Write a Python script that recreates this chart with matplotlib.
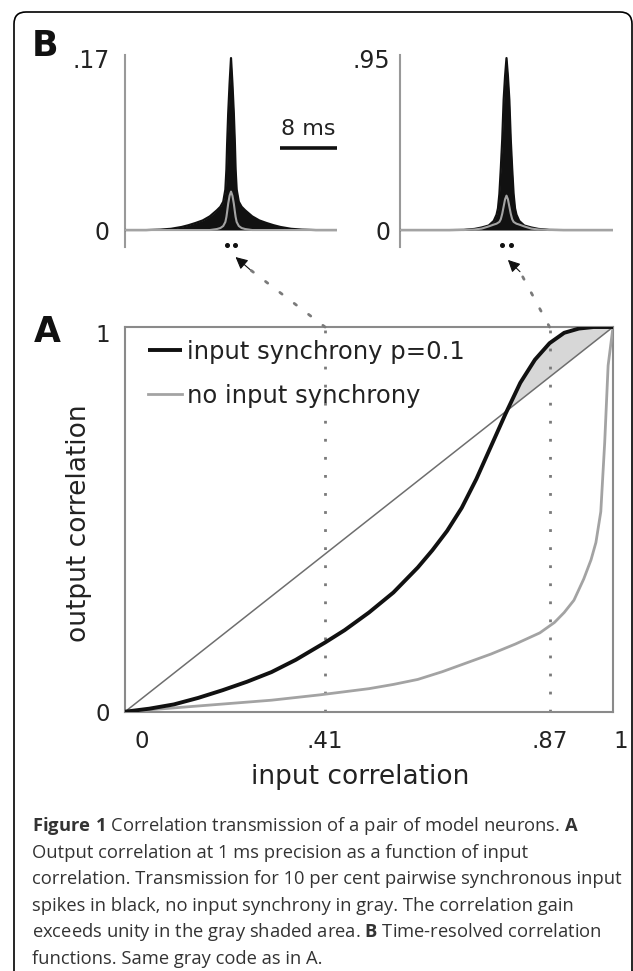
import matplotlib
matplotlib.use("Agg")
import matplotlib.pyplot as plt
from matplotlib.patches import FancyBboxPatch, ConnectionPatch
from matplotlib.transforms import IdentityTransform, ScaledTranslation
import numpy as np

plt.rcParams['font.family'] = ['DejaVu Sans']
plt.rcParams['mathtext.fontset'] = 'custom'
plt.rcParams['mathtext.rm'] = 'Open Sans'
plt.rcParams['mathtext.bf'] = 'Open Sans:bold'

# --- panel A: output vs input correlation ---
sync_x = [0, .05, .1, .15, .2, .25, .3, .35, .41, .45, .5, .55, .6, .63, .66,
          .69, .72, .75, .78, .81, .84, .87, .9, .93, .96, 1]
sync_y = [0, .008, .019, .036, .056, .078, .103, .135, .18, .212, .258, .31,
          .375, .42, .47, .53, .605, .69, .775, .855, .915, .958, .985, .996,
          1, 1]
nosync_x = [0, .1, .2, .3, .4, .45, .5, .55, .6, .65, .7, .75, .8, .85, .88,
            .9, .92, .94, .955, .965, .975, .983, .99, 1]
nosync_y = [0, .01, .02, .03, .044, .052, .06, .071, .084, .104, .127, .15,
            .176, .205, .232, .258, .29, .345, .395, .44, .52, .7, .9, 1]
marked_inputs = [0.41, 0.87]
xtick_vals = [0, 0.41, 0.87, 1]
xtick_labels = ['0', '.41', '.87', '1']
legend_labels = ['input synchrony p=0.1', 'no input synchrony']

# --- panel B: time-resolved correlation functions (lag in ms) ---
lag = [-15, -12, -10, -8.5, -7, -6, -5, -4, -3, -2, -1.5, -1.1, -0.8, -0.65,
       -0.55, -0.4, -0.2, 0, 0.2, 0.4, 0.55, 0.65, 0.8, 1.1, 1.5, 2, 3, 4, 5,
       6, 7, 8.5, 10, 12, 15]
b1_sync = [0, 0, .0004, .0012, .003, .0048, .007, .0095, .0135, .0195, .023,
           .028, .04, .06, .085, .115, .145, .17, .145, .115, .085, .06, .04,
           .028, .023, .0195, .0135, .0095, .007, .0048, .003, .0012, .0004,
           0, 0]
b1_nosync = [0, 0, 0, 0, 0, 0, 0, 0, 0, .001, .002, .004, .008, .013, .018,
             .026, .034, .038, .034, .026, .018, .013, .008, .004, .002, .001,
             0, 0, 0, 0, 0, 0, 0, 0, 0]
lag2 = [-15, -10, -8, -6, -4.5, -3.5, -2.5, -1.8, -1.4, -1.2, -1.0, -0.8,
        -0.6, -0.4, -0.2, 0, 0.2, 0.4, 0.6, 0.8, 1.0, 1.2, 1.4, 1.8, 2.5, 3.5,
        4.5, 6, 8, 10, 15]
b2_sync = [0, 0, 0, .001, .006, .014, .025, .05, .085, .12, .2, .34, .5, .72,
           .85, .95, .85, .72, .5, .34, .2, .12, .085, .05, .025, .014, .006,
           .001, 0, 0, 0]
b2_nosync = [0, 0, 0, 0, .003, .008, .02, .03, .035, .04, .045, .06, .09, .13,
             .17, .19, .17, .13, .09, .06, .045, .04, .035, .03, .02, .008,
             .003, 0, 0, 0, 0]
b1_top, b2_top = 0.17, 0.95
scale_bar = [7, 15]   # 8 ms

black = '#111111'
gray = '#a3a3a3'
spine_gray = '#8a8a8a'
text_c = '#222222'

fig = plt.figure(figsize=(6.33, 9.71), dpi=100)

# rounded frame around the figure
frame = FancyBboxPatch((14, -30), 618, 989, boxstyle="round,pad=0,rounding_size=12",
                       transform=IdentityTransform(), fill=False, lw=1.2,
                       ec='black')
fig.patches.append(frame)

axA = fig.add_axes([0.1975, 0.267, 0.7709, 0.3962])
axB1 = fig.add_axes([0.1975, 0.7456, 0.3349, 0.1977])
axB2 = fig.add_axes([0.6319, 0.7456, 0.3365, 0.1977])

# ---- A ----
axA.fill_between(sync_x, sync_y, sync_x, where=np.array(sync_y) >= np.array(sync_x),
                 interpolate=True, color='#d7d7d7', lw=0, zorder=1)
axA.plot([0, 1], [0, 1], color='#6e6e6e', lw=1.1, zorder=2)
for xv in marked_inputs:
    axA.axvline(xv, color='#7a7a7a', lw=2, ls=(0, (1, 5.5)), zorder=2)
l1, = axA.plot(sync_x, sync_y, color=black, lw=2.8, zorder=4,
               label=legend_labels[0], solid_capstyle='butt',
               solid_joinstyle='round')
l2, = axA.plot(nosync_x, nosync_y, color=gray, lw=2.0, zorder=3,
               label=legend_labels[1], solid_joinstyle='round')
axA.set_xlim(0, 1)
axA.set_ylim(0, 1)
for s in axA.spines.values():
    s.set_color(spine_gray)
    s.set_linewidth(1.5)
axA.set_xticks(xtick_vals)
axA.set_xticklabels(xtick_labels)
axA.set_yticks([0, 1])
axA.set_yticklabels(['0', '1'])
axA.tick_params(axis='x', length=0, pad=13, labelsize=16.5, labelcolor=text_c)
axA.tick_params(axis='y', length=0, pad=11, labelsize=16.5, labelcolor=text_c)
xt = axA.xaxis.get_major_ticks()
xt[0].label1.set_transform(xt[0].label1.get_transform() +
                           ScaledTranslation(0.17, 0, fig.dpi_scale_trans))
xt[-1].label1.set_transform(xt[-1].label1.get_transform() +
                            ScaledTranslation(0.08, 0, fig.dpi_scale_trans))
yt = axA.yaxis.get_major_ticks()
yt[-1].label1.set_transform(yt[-1].label1.get_transform() +
                            ScaledTranslation(0, -0.06, fig.dpi_scale_trans))
axA.set_xlabel('input correlation', fontsize=19, color=text_c)
axA.xaxis.set_label_coords(0.4816, -0.135)
axA.set_ylabel('output correlation', fontsize=19, color=text_c)
axA.yaxis.set_label_coords(-0.068, 0.49)
leg = axA.legend(handles=[l1, l2], loc='upper left', bbox_to_anchor=(0.047, 0.967),
                 frameon=False, fontsize=17.5, handlelength=1.4,
                 handletextpad=0.2, labelspacing=0.83, borderpad=0,
                 borderaxespad=0)
for t in leg.get_texts():
    t.set_color(text_c)

# ---- B ----
def panel_b(ax, lags, ysync, ynosync, top, pad):
    ax.fill_between(lags, 0, ysync, color=black, lw=0, zorder=2)
    ax.plot(lags, ysync, color=black, lw=1.6, zorder=3)
    ax.plot(lags, ynosync, color=gray, lw=1.5, zorder=4)
    ax.set_xlim(-15, 15)
    ax.set_ylim(-0.0988 * top, 1.0175 * top)
    for k in ['top', 'right', 'bottom']:
        ax.spines[k].set_visible(False)
    ax.spines['left'].set_color('#999999')
    ax.spines['left'].set_linewidth(1.5)
    ax.set_xticks([])
    ax.set_yticks([0, top])
    ax.set_yticklabels(['0', ('%.2f' % top)[1:]])
    ax.tick_params(axis='y', length=0, pad=pad, labelsize=17, labelcolor=text_c)
    ax.patch.set_alpha(0)
    ax.plot([-0.6, 0.6], [-0.087 * top, -0.087 * top], 'o', ms=2.6,
            color=black, clip_on=False)

panel_b(axB1, lag, b1_sync, b1_nosync, b1_top, 11)
panel_b(axB2, lag2, b2_sync, b2_nosync, b2_top, 7)
axB1.plot(scale_bar, [0.081, 0.081], color=black, lw=2.6, clip_on=False,
          solid_capstyle='butt')
axB1.text(np.mean(scale_bar), 0.1, '%d ms' % (scale_bar[1] - scale_bar[0]),
          ha='center', va='center', fontsize=16, color=text_c)

# dotted links from A to B with arrow heads
links = [(axB1, marked_inputs[0], (2.76, -0.0395), (0.64, -0.0267)),
         (axB2, marked_inputs[1], (1.9, -0.23), (0.2, -0.165))]
for axb, xv, base, tip in links:
    con = ConnectionPatch(xyA=(xv, 1), coordsA=axA.transData, xyB=base,
                          coordsB=axb.transData, color='#7a7a7a', lw=2,
                          ls=(0, (1, 5.5)))
    fig.add_artist(con)
    axb.annotate('', xy=tip, xytext=base, annotation_clip=False,
                 arrowprops=dict(arrowstyle='-|>', mutation_scale=18,
                                 color=black, lw=0.8, shrinkA=0, shrinkB=0))

fig.text(0.0742, 0.658, 'A', fontsize=25, fontweight='bold', ha='center',
         va='center', color=black)
fig.text(0.0711, 0.9526, 'B', fontsize=25, fontweight='bold', ha='center',
         va='center', color=black)

# caption
caption = [
    r'$\mathbf{Figure\ 1}$ Correlation transmission of a pair of model neurons. $\mathbf{A}$',
    'Output correlation at 1 ms precision as a function of input',
    'correlation. Transmission for 10 per cent pairwise synchronous input',
    'spikes in black, no input synchrony in gray. The correlation gain',
    r'exceeds unity in the gray shaded area. $\mathbf{B}$ Time-resolved correlation',
    'functions. Same gray code as in A.',
]
for i, line in enumerate(caption):
    ybase = 831 + 26.6 * i
    fig.text(32 / 633, (971 - ybase) / 971, line, fontsize=13.2,
             family='Open Sans', color='#333333', ha='left', va='baseline')

fig.savefig('out.png', dpi=100)
